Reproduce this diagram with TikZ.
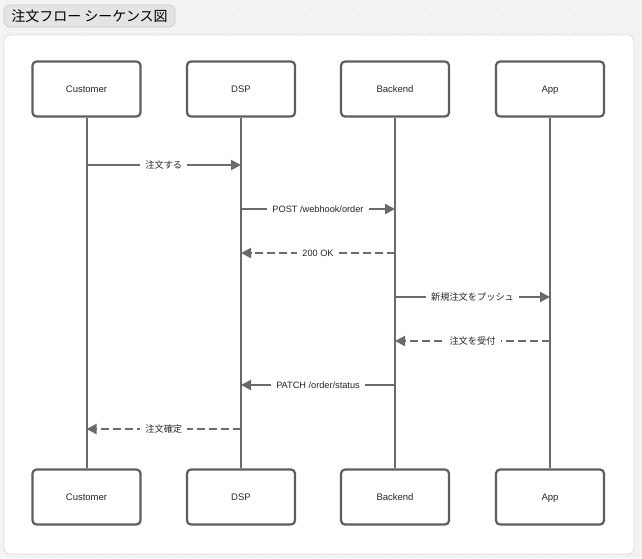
\documentclass[tikz,border=0pt]{standalone}
\usepackage{fontspec}
\setmainfont{Liberation Sans}
\newfontfamily\jpfont{Noto Sans CJK JP}
\usetikzlibrary{arrows.meta}

\definecolor{bggray}{HTML}{F3F3F3}
\definecolor{dotgray}{HTML}{C4C4C4}
\definecolor{panelline}{HTML}{DDDDDD}
\definecolor{titlefill}{HTML}{E4E4E4}
\definecolor{titleline}{HTML}{C8C8C8}
\definecolor{boxline}{HTML}{5E5E5E}
\definecolor{flowgray}{HTML}{6A6A6A}

\tikzset{
  actor/.style={draw=boxline, line width=2.2pt, rounded corners=4pt, fill=white,
    minimum width=108pt, minimum height=55pt, text height=8.5pt, text depth=1.7pt,
    font=\fontsize{9.5}{11}\selectfont, text=black!85},
  lifeline/.style={draw=flowgray, line width=2pt},
  msg/.style={draw=flowgray, line width=2pt, -{Triangle[length=10pt,width=10pt]}},
  reply/.style={msg, dash pattern=on 8pt off 4pt},
  lbl/.style={fill=white, inner xsep=5pt, inner ysep=1pt, text=black!85,
    font=\fontsize{9.2}{11}\selectfont}
}

\begin{document}
\begin{tikzpicture}[x=1pt, y=-1pt]
    \useasboundingbox (0,0) rectangle (642,558);
    \fill[bggray] (0,0) rectangle (642,558);
    \foreach \gx in {8,17,...,640} {
      \foreach \gy in {6,15,...,556} {
        \fill[dotgray] (\gx,\gy) circle (0.5pt);
      }
    }

    % title and panel
    \node[draw=titleline, fill=titlefill, rounded corners=6pt, line width=0.8pt,
      minimum width=171pt, minimum height=22pt, font=\jpfont\fontsize{14}{16}\selectfont]
      (title) at (89.5,16) {注文フロー シーケンス図};
    \draw[panelline, fill=white, rounded corners=6pt, line width=0.8pt] (4,35) rectangle (634,554);

    % actors
    \node[actor] (custT) at (86.5,89) {Customer};
    \node[actor] (dspT) at (241,89) {DSP};
    \node[actor] (backT) at (395,89) {Backend};
    \node[actor] (appT) at (550,89) {App};
    \node[actor] (custB) at (86.5,497) {Customer};
    \node[actor] (dspB) at (241,497) {DSP};
    \node[actor] (backB) at (395,497) {Backend};
    \node[actor] (appB) at (550,497) {App};

    \draw[lifeline] (custT) -- (custB);
    \draw[lifeline] (dspT) -- (dspB);
    \draw[lifeline] (backT) -- (backB);
    \draw[lifeline] (appT) -- (appB);

    % message rows
    \coordinate (y1) at (0,165);
    \coordinate (y2) at (0,209);
    \coordinate (y3) at (0,253);
    \coordinate (y4) at (0,297);
    \coordinate (y5) at (0,341);
    \coordinate (y6) at (0,385);
    \coordinate (y7) at (0,429);

    \draw[msg] (custT |- y1) -- node[lbl] {\jpfont 注文する} (dspT |- y1);
    \draw[msg] (dspT |- y2) -- node[lbl] {POST /webhook/order} (backT |- y2);
    \draw[reply] (backT |- y3) -- node[lbl] {200 OK} (dspT |- y3);
    \draw[msg] (backT |- y4) -- node[lbl] {\jpfont 新規注文をプッシュ} (appT |- y4);
    \draw[reply] (appT |- y5) -- node[lbl] {\jpfont 注文を受付} (backT |- y5);
    \draw[msg] (backT |- y6) -- node[lbl] {PATCH /order/status} (dspT |- y6);
    \draw[reply] (dspT |- y7) -- node[lbl] {\jpfont 注文確定} (custT |- y7);
\end{tikzpicture}
\end{document}
